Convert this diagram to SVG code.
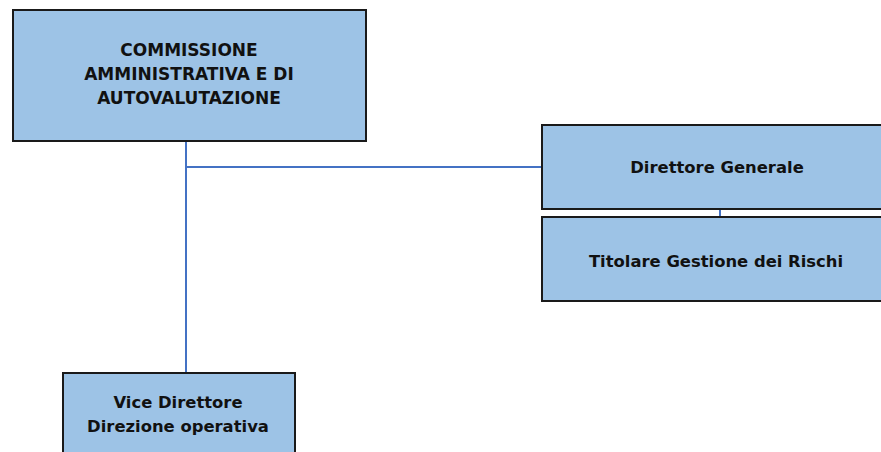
<svg xmlns="http://www.w3.org/2000/svg" width="881" height="452" viewBox="0 0 881 452">
<style>
.box{fill:#9dc3e6;stroke:#1a1a1a;stroke-width:2}
.t{font-family:"DejaVu Sans",sans-serif;font-weight:bold;font-size:17px;fill:#111;text-anchor:middle}
.s{font-size:16.4px}
.c{stroke:#4472c4;stroke-width:2;fill:none}
</style>
<rect x="0" y="0" width="881" height="452" fill="#fff"/>
<g id="connectors">
<line class="c" x1="186" y1="141" x2="186" y2="373"/>
<line class="c" x1="186" y1="167" x2="542" y2="167"/>
<line class="c" x1="720" y1="209" x2="720" y2="217"/>
</g>
<g id="commissione">
<rect class="box" x="13" y="10" width="353" height="131"/>
<text class="t" x="189" y="56">COMMISSIONE</text>
<text class="t" x="189" y="80">AMMINISTRATIVA E DI</text>
<text class="t" x="189" y="104">AUTOVALUTAZIONE</text>
</g>
<g id="direttore">
<rect class="box" x="542" y="125" width="360" height="84"/>
<text class="t s" x="717" y="173">Direttore Generale</text>
</g>
<g id="titolare">
<rect class="box" x="542" y="217" width="360" height="84"/>
<text class="t s" x="716" y="267">Titolare Gestione dei Rischi</text>
</g>
<g id="vice">
<rect class="box" x="63" y="373" width="232" height="100"/>
<text class="t s" x="178" y="408">Vice Direttore</text>
<text class="t s" x="178" y="432">Direzione operativa</text>
</g>
</svg>
